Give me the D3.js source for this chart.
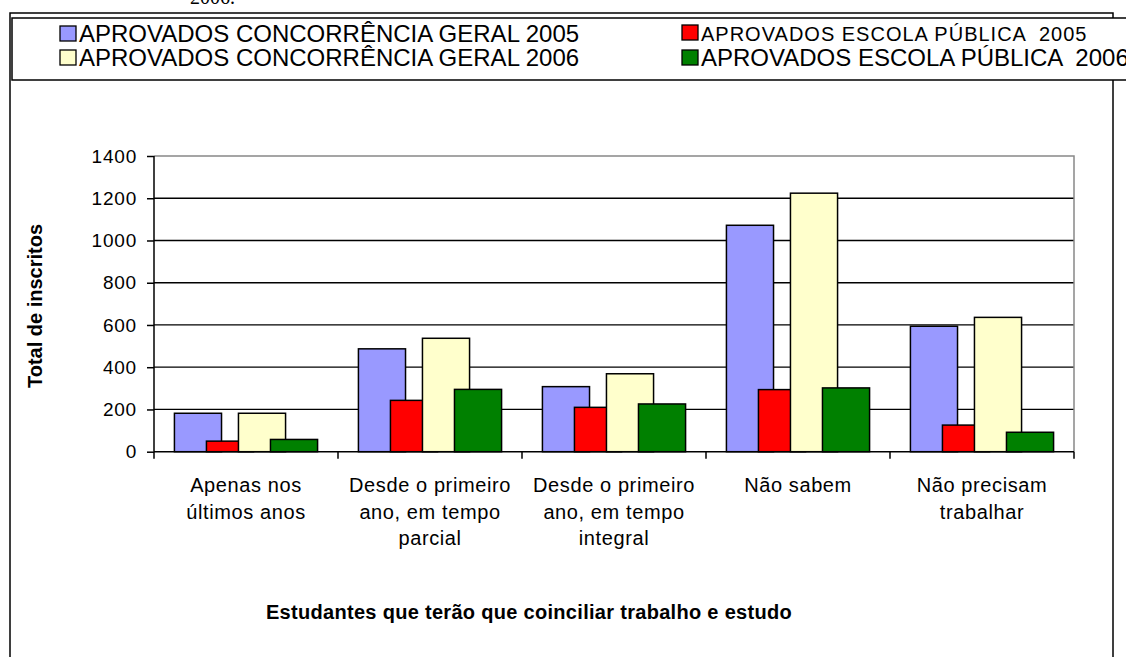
<!DOCTYPE html>
<html>
<head>
<meta charset="utf-8">
<script src="https://cdn.jsdelivr.net/npm/d3@7"></script>
<style>
  body { margin: 0; background: #fff; overflow: hidden; }
  svg { display: block; }
</style>
</head>
<body>
<script>
// data
const categories = [
  "Apenas nos\núltimos anos",
  "Desde o primeiro\nano, em tempo\nparcial",
  "Desde o primeiro\nano, em tempo\nintegral",
  "Não sabem",
  "Não precisam\ntrabalhar"
];
const geral2005  = [182, 487, 308, 1072, 594];
const escola2005 = [50, 243, 210, 294, 126];
const geral2006  = [182, 537, 369, 1224, 636];
const escola2006 = [58, 295, 226, 302, 92];
const seriesNames = [
  "APROVADOS CONCORRÊNCIA GERAL 2005",
  "APROVADOS ESCOLA PÚBLICA  2005",
  "APROVADOS CONCORRÊNCIA GERAL 2006",
  "APROVADOS ESCOLA PÚBLICA  2006"
];
const seriesColors = ["#9999FF", "#FF0000", "#FFFFCC", "#008000"];
const yTicks = [0, 200, 400, 600, 800, 1000, 1200, 1400];

const series = [geral2005, escola2005, geral2006, escola2006];

const W = 1126, H = 657;
const font = "'Liberation Sans', Arial, sans-serif";

const svg = d3.select("body").append("svg")
  .attr("width", W)
  .attr("height", H);

// leftover caption from the page above the chart, mostly off the top
svg.append("text")
  .attr("x", 190).attr("y", 4)
  .attr("font-family", "'Liberation Serif', 'Times New Roman', serif")
  .attr("font-size", "20px")
  .text("2006.");

// outer chart frame (runs off the bottom of the picture)
svg.append("rect")
  .attr("x", 10).attr("y", 13)
  .attr("width", 1103).attr("height", 700)
  .attr("fill", "#fff")
  .attr("stroke", "#000")
  .attr("stroke-width", 1.5);

// legend box (runs off the right side)
svg.append("rect")
  .attr("x", 12).attr("y", 18)
  .attr("width", 1130).attr("height", 62)
  .attr("fill", "#fff")
  .attr("stroke", "#000")
  .attr("stroke-width", 1.5);

// legend entries: column by column as in the original
const legendItems = [
  {i: 0, x: 60,  y: 42, size: "24px", ls: "0px"},
  {i: 2, x: 60,  y: 66, size: "24px", ls: "0px"},
  {i: 1, x: 682, y: 41, size: "20px", ls: "1px"},
  {i: 3, x: 682, y: 66, size: "24px", ls: "0px"}
];
const legend = svg.append("g");
legendItems.forEach(d => {
  legend.append("rect")
    .attr("x", d.x).attr("y", d.y - 16)
    .attr("width", 16).attr("height", 15)
    .attr("fill", seriesColors[d.i])
    .attr("stroke", "#000")
    .attr("stroke-width", 1.3);
  legend.append("text")
    .attr("x", d.x + 19).attr("y", d.y)
    .attr("font-family", font)
    .attr("font-size", d.size)
    .attr("letter-spacing", d.ls)
    .style("white-space", "pre")
    .text(seriesNames[d.i]);
});

// plot area
const plot = {left: 154, right: 1074, top: 156, bottom: 451.7};

const xScale = d3.scaleBand()
  .domain(d3.range(categories.length))
  .range([plot.left, plot.right])
  .padding(0);

const yScale = d3.scaleLinear()
  .domain([0, 1400])
  .range([plot.bottom, plot.top]);

const bw = xScale.bandwidth();
const barW = bw * 0.256;
const step = bw * 0.174;
const groupStart = (bw - (3 * step + barW)) / 2;

// gridlines
svg.append("g")
  .selectAll("line")
  .data(yTicks.filter(t => t > 0 && t < 1400))
  .enter()
  .append("line")
    .attr("x1", plot.left).attr("x2", plot.right)
    .attr("y1", d => yScale(d)).attr("y2", d => yScale(d))
    .attr("stroke", "#000")
    .attr("stroke-width", 1.3);

// plot area border top and right (grey)
svg.append("path")
  .attr("d", `M${plot.left},${yScale(1400)}H${plot.right}V${plot.bottom}`)
  .attr("fill", "none")
  .attr("stroke", "#888")
  .attr("stroke-width", 1.5);

// bars, series after series so later ones sit on top
series.forEach((vals, s) => {
  svg.append("g")
    .selectAll("rect")
    .data(vals)
    .enter()
    .append("rect")
      .attr("x", (d, i) => xScale(i) + groupStart + s * step)
      .attr("y", d => yScale(d))
      .attr("width", barW)
      .attr("height", d => yScale(0) - yScale(d))
      .attr("fill", seriesColors[s])
      .attr("stroke", "#000")
      .attr("stroke-width", 1.5);
});

// y axis
const yAxis = svg.append("g")
  .attr("transform", `translate(${plot.left},0)`);
d3.axisLeft(yScale)
  .tickValues(yTicks)
  .tickSize(7)
  .tickPadding(10)
  .tickFormat(d3.format("d"))(yAxis);
yAxis.select(".domain").attr("stroke-width", 1.5).attr("d", `M0,${plot.top}V${plot.bottom}`);
yAxis.selectAll(".tick line").attr("stroke-width", 1.5);
yAxis.selectAll(".tick text")
  .attr("font-family", font)
  .attr("font-size", "19px")
  .attr("letter-spacing", "0.8px")
  .attr("fill", "#000");

// x axis line and ticks at category boundaries
svg.append("line")
  .attr("x1", plot.left).attr("x2", plot.right)
  .attr("y1", plot.bottom).attr("y2", plot.bottom)
  .attr("stroke", "#000")
  .attr("stroke-width", 1.5);
const bounds = d3.range(categories.length).map(i => xScale(i)).concat([plot.right]);
svg.append("g")
  .selectAll("line")
  .data(bounds)
  .enter()
  .append("line")
    .attr("x1", d => d).attr("x2", d => d)
    .attr("y1", plot.bottom).attr("y2", plot.bottom + 7)
    .attr("stroke", "#000")
    .attr("stroke-width", 1.5);

// category labels
const catLabels = svg.append("g")
  .selectAll("text")
  .data(categories)
  .enter()
  .append("text")
    .attr("text-anchor", "middle")
    .attr("font-family", font)
    .attr("font-size", "20px")
    .attr("letter-spacing", "0.6px")
    .attr("y", 492);
catLabels.each(function(d, i) {
  const t = d3.select(this);
  d.split("\n").forEach((line, k) => {
    t.append("tspan")
      .attr("x", xScale(i) + bw / 2)
      .attr("dy", k === 0 ? 0 : 26.5)
      .text(line);
  });
});

// axis titles
svg.append("text")
  .attr("x", 529)
  .attr("y", 619)
  .attr("text-anchor", "middle")
  .attr("font-family", font)
  .attr("font-size", "20px")
  .attr("font-weight", "bold")
  .attr("letter-spacing", "0.3px")
  .text("Estudantes que terão que coinciliar trabalho e estudo");

svg.append("text")
  .attr("transform", "translate(42,306) rotate(-90)")
  .attr("text-anchor", "middle")
  .attr("font-family", font)
  .attr("font-size", "20px")
  .attr("font-weight", "bold")
  .text("Total de inscritos");
</script>
</body>
</html>
